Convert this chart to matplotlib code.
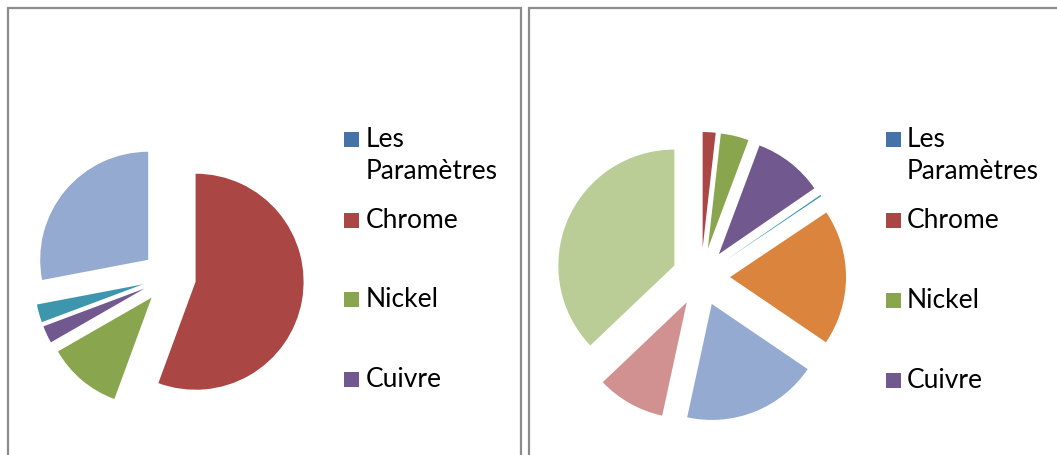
import matplotlib.pyplot as plt
from matplotlib.patches import Rectangle

W, H = 1057, 455

legend_labels = ["Les\nParamètres", "Chrome", "Nickel", "Cuivre"]
colors = ["#4572A7", "#AA4643", "#89A54E", "#71588F", "#3D96AE",
          "#DB843D", "#95AAD1", "#D29191", "#BACD96"]

# shares (percent), in series order
left_values = [0, 55.6, 11.1, 2.6, 2.7, 0, 28.0, 0, 0]
right_values = [0, 1.8, 3.9, 9.7, 0.2, 18.9, 18.9, 9.5, 37.1]

plt.rcParams['font.family'] = ['Lato', 'DejaVu Sans']

fig = plt.figure(figsize=(W / 100, H / 100), dpi=100)


def px(x, y):
    # pixel (from top-left) -> figure fraction
    return x / W, 1 - y / H


def draw_pie(cx, cy, r, values):
    half = 1.5 * r
    ax = fig.add_axes([(cx - half) / W, 1 - (cy + half) / H, 2 * half / W, 2 * half / H])
    ax.pie(values, colors=colors, startangle=90, counterclock=False,
           explode=[0.25] * len(values), radius=1,
           wedgeprops=dict(linewidth=0))
    ax.set_xlim(-1.5, 1.5)
    ax.set_ylim(-1.5, 1.5)
    ax.set_aspect('equal')
    ax.axis('off')


def draw_legend(xsq, xtxt, baselines):
    for i, lab in enumerate(legend_labels):
        b = baselines[i]
        x0, y0 = px(xsq, b)
        fig.patches.append(Rectangle((x0, y0), 15 / W, 15 / H, transform=fig.transFigure,
                                     color=colors[i], lw=0))
        for k, line in enumerate(lab.split("\n")):
            tx, ty = px(xtxt, b + 32 * k)
            fig.text(tx, ty, line, fontsize=19, va='baseline', ha='left', color='black')


# panel borders
for x0, x1 in [(8, 521), (529, 1065)]:
    fx, fy = px(x0, 470)
    fig.patches.append(Rectangle((fx, fy), (x1 - x0) / W, (470 - 8) / H,
                                 transform=fig.transFigure, fill=False,
                                 edgecolor='#8C8C8C', lw=1.6))

draw_pie(169, 277, 108, left_values)
draw_pie(701, 277, 116, right_values)

draw_legend(344, 366, [147, 228, 307, 387])
draw_legend(886, 907, [147, 228, 308, 388])

fig.savefig("out.png", dpi=100)
